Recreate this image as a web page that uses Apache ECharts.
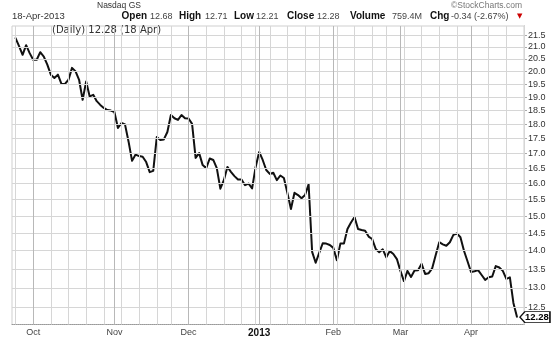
<!DOCTYPE html>
<html><head><meta charset="utf-8">
<script src="https://cdn.jsdelivr.net/npm/echarts@6/dist/echarts.min.js"></script>
<style>html,body{margin:0;padding:0;background:#fff}#c{width:560px;height:340px}</style>
</head><body><div id="c"></div>
<script>
// ---- data ----
const firstDate = '2012-09-21';
const lastDate = '2013-04-22';
const holidays = ['2012-11-22','2012-12-25','2013-01-01','2013-01-21','2013-02-18','2013-03-29'];
const priceStart = '2012-09-24';
const closes = [
 21.37,21.03,20.67,21.07,20.74,20.47,20.47,20.78,20.60,20.27,
 19.87,19.74,19.87,19.51,19.51,19.67,20.14,20.00,19.67,18.90,
 19.60,19.03,19.09,18.85,18.71,18.60,18.52,18.50,18.45,17.87,
 18.05,18.00,17.40,16.74,16.95,16.90,16.88,16.70,16.37,16.41,
 17.55,17.45,17.47,17.73,18.34,18.22,18.16,18.34,18.22,18.21,
 18.02,16.84,17.00,16.60,16.50,16.82,16.77,16.50,15.84,16.11,
 16.54,16.38,16.24,16.13,16.13,15.95,16.00,15.85,16.54,17.04,
 16.77,16.44,16.31,16.35,16.11,16.26,16.18,15.70,15.21,15.71,
 15.64,15.54,15.64,15.98,13.97,13.67,13.94,14.21,14.20,14.16,
 14.08,13.74,14.20,14.20,14.62,14.81,14.97,14.62,14.59,14.57,
 14.40,14.33,14.05,13.96,14.04,13.82,13.99,13.91,13.77,13.45,
 13.18,13.45,13.29,13.46,13.47,13.64,13.37,13.39,13.52,13.88,
 14.24,14.18,14.14,14.24,14.45,14.49,14.38,14.00,13.71,13.42,
 13.44,13.47,13.34,13.21,13.28,13.30,13.58,13.54,13.45,13.24,
 13.28,12.62,12.28
];
const yTicks = [12.5,13.0,13.5,14.0,14.5,15.0,15.5,16.0,16.5,17.0,17.5,18.0,18.5,19.0,19.5,20.0,20.5,21.0,21.5];
const monthNames = ['Jan','Feb','Mar','Apr','May','Jun','Jul','Aug','Sep','Oct','Nov','Dec'];
const exchange = 'Nasdaq GS';
const dateText = '18-Apr-2013';
const headerLabels = ['Open','High','Low','Close','Volume','Chg'];
const headerValues = ['12.68','12.71','12.21','12.28','759.4M','-0.34 (-2.67%)'];
const legendText = '(Daily) 12.28 (18 Apr)';
const lastLabel = '12.28';
const credit = '\u00A9StockCharts.com';

// ---- categories (trading days) ----
const dates = [];
{
  const hs = new Set(holidays);
  let d = new Date(firstDate + 'T00:00:00Z');
  const end = new Date(lastDate + 'T00:00:00Z');
  while (d <= end) {
    const wd = d.getUTCDay();
    const s = d.toISOString().slice(0,10);
    if (wd !== 0 && wd !== 6 && !hs.has(s)) dates.push(s);
    d = new Date(d.getTime() + 86400000);
  }
}
const offset = dates.indexOf(priceStart);
const seriesData = dates.map((s,i) => {
  const k = i - offset;
  return (k >= 0 && k < closes.length) ? closes[k] : null;
});
const lastIdx = offset + closes.length - 1;
const monthStart = new Set(), weekStart = new Set();
for (let i = 1; i < dates.length; i++) {
  const a = new Date(dates[i-1]+'T00:00:00Z'), b = new Date(dates[i]+'T00:00:00Z');
  if (a.getUTCMonth() !== b.getUTCMonth()) monthStart.add(i);
  if (b.getUTCDay() < a.getUTCDay() || (b - a) > 6*86400000) weekStart.add(i);
}

// layout of header pieces (x positions)
const labelX = [121.5, 179, 234, 287, 350, 430];
const valueX = [150, 205, 256, 317, 392, 451];
const headerGraphics = [];
headerLabels.forEach((l, i) => {
  headerGraphics.push({ type: 'text', x: labelX[i], y: 16.5, style: { text: l, font: 'bold 10px "Liberation Sans", Arial', fill: '#111', textVerticalAlign: 'middle' } });
  headerGraphics.push({ type: 'text', x: valueX[i], y: 16.5, style: { text: headerValues[i], font: '9px "Liberation Sans", Arial', fill: '#444', textVerticalAlign: 'middle' } });
});

const hMarks = yTicks.map(v => ({ yAxis: v }));
const wMarks = [...weekStart].filter(i => !monthStart.has(i)).map(i => ({ xAxis: dates[i] }));
const mMarks = [...monthStart].map(i => ({ xAxis: dates[i] }));

const chart = echarts.init(document.getElementById('c'), null, {renderer:'canvas'});
chart.setOption({
  animation: false,
  backgroundColor: '#fff',
  grid: { left: 12, right: 36, top: 26, bottom: 15.5, show: true, borderColor: '#cfcfcf', borderWidth: 1 },
  xAxis: {
    type: 'category', data: dates, boundaryGap: false, position: 'bottom',
    axisLine: { show: true, lineStyle: { color: '#999', type: 'dotted' } },
    axisTick: { show: false },
    axisLabel: {
      interval: (i) => monthStart.has(i),
      formatter: (v) => { const m = +v.slice(5,7) - 1; return m === 0 ? '{y|' + v.slice(0,4) + '}' : monthNames[m]; },
      fontSize: 9, color: '#444', fontFamily: 'Liberation Sans, Arial', margin: 4,
      rich: { y: { fontSize: 10, fontWeight: 'bold', color: '#111', fontFamily: 'Liberation Sans, Arial' } }
    },
    splitLine: { show: false }
  },
  yAxis: {
    type: 'log', logBase: 10, position: 'right', min: 12.09, max: 21.89,
    axisLine: { show: true, lineStyle: { color: '#999', type: 'dotted' } },
    axisTick: { show: true, customValues: yTicks, length: 3, lineStyle: { color: '#aaa' } },
    axisLabel: { customValues: yTicks, formatter: (v) => (+v).toFixed(1), fontSize: 9, color: '#333', fontFamily: 'Liberation Sans, Arial', margin: 4 },
    splitLine: { show: false }
  },
  series: [
    {
      type: 'line', data: dates.map(() => null), z: 1, silent: true, symbol: 'none',
      markLine: { silent: true, symbol: 'none', label: { show: false }, animation: false,
        lineStyle: { color: '#d6d6d6', width: 1, type: 'solid' }, data: hMarks.concat(wMarks) }
    },
    {
      type: 'line', data: dates.map(() => null), z: 1, silent: true, symbol: 'none',
      markLine: { silent: true, symbol: 'none', label: { show: false }, animation: false,
        lineStyle: { color: '#b8b8b8', width: 1, type: 'solid' }, data: mMarks }
    },
    {
      type: 'line', data: seriesData, showSymbol: false, symbol: 'none', z: 3,
      lineStyle: { color: '#111', width: 2, join: 'round', cap: 'round' }, connectNulls: false,
      markPoint: {
        symbol: 'path://M0,5 L5,0 L30,0 L30,10 L5,10 Z', symbolSize: [30, 11], symbolOffset: [18, 0.5],
        itemStyle: { color: '#fff', borderColor: '#111', borderWidth: 1 },
        label: { show: true, position: 'inside', formatter: lastLabel, color: '#000', fontWeight: 'bold', fontSize: 9.5, fontFamily: 'Liberation Sans, Arial', offset: [2, 0] },
        data: [{ coord: [lastIdx, closes[closes.length-1]] }]
      }
    }
  ],
  graphic: [
    { type: 'text', x: 97, y: 6, style: { text: exchange, font: '8.5px "Liberation Sans", Arial', fill: '#333', textVerticalAlign: 'middle' } },
    { type: 'text', x: 522, y: 6, style: { text: credit, font: '8.5px "Liberation Sans", Arial', fill: '#777', textAlign: 'right', textVerticalAlign: 'middle' } },
    { type: 'text', x: 12, y: 16.5, style: { text: dateText, font: '9.5px "Liberation Sans", Arial', fill: '#333', textVerticalAlign: 'middle' } },
    { type: 'text', x: 517, y: 16.5, style: { text: '\u25BC', font: '7px "DejaVu Sans"', fill: '#c00', textVerticalAlign: 'middle' } },
    { type: 'text', x: 52, y: 30.5, style: { text: legendText, font: '10px "DejaVu Sans"', fill: '#333', textVerticalAlign: 'middle' } }
  ].concat(headerGraphics)
});
</script></body></html>
